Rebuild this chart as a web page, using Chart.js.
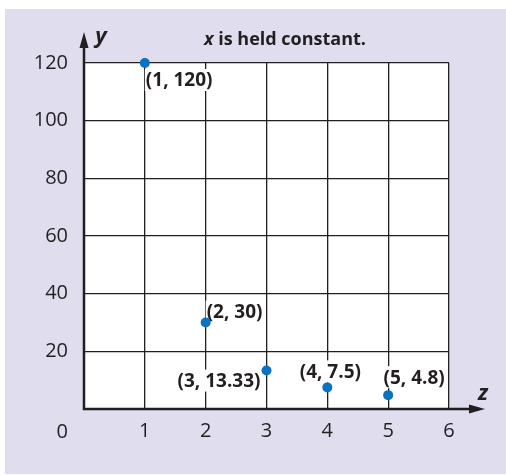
<!DOCTYPE html>
<html>
<head>
<meta charset="utf-8">
<script src="https://cdn.jsdelivr.net/npm/chart.js@4.4.1/dist/chart.umd.min.js"></script>
<style>
  html, body { margin: 0; padding: 0; background: #fff; }
  #wrap { width: 506px; height: 475px; }
</style>
</head>
<body>
<div id="wrap"><canvas id="chart" width="506" height="475"></canvas></div>
<script>
const zValues = [1, 2, 3, 4, 5];
const yValues = [120, 30, 13.33, 7.5, 4.8];
const xTicks = [0, 1, 2, 3, 4, 5, 6];
const yTicks = [0, 20, 40, 60, 80, 100, 120];
const titleVar = 'x';
const titleText = ' is held constant.';

const ink = '#231f20';
const font = 'Open Sans';

// where each point label sits relative to its point: [dx, dy, align]
const labelPlace = [
  [1, 17, 'left'],
  [1, -11, 'left'],
  [-6, 10, 'right'],
  [3, -16, 'center'],
  [26, -18, 'center']
];

const decor = {
  id: 'decor',
  beforeDraw(chart) {
    const { ctx, chartArea: a } = chart;
    ctx.save();
    ctx.fillStyle = '#fff';
    ctx.fillRect(0, 0, chart.width, chart.height);
    ctx.fillStyle = '#dfddee';
    ctx.fillRect(5, 9, chart.width - 5, chart.height - 10);
    ctx.fillStyle = '#fff';
    ctx.fillRect(a.left, a.top, a.right - a.left, a.bottom - a.top);
    ctx.restore();
  },
  beforeDatasetsDraw(chart) {
    const { ctx, scales } = chart;
    const meta = chart.getDatasetMeta(0);
    ctx.save();

    // point labels with white boxes over the grid
    ctx.font = `bold 19px "${font}"`;
    ctx.textBaseline = 'middle';
    meta.data.forEach((pt, i) => {
      const txt = `(${zValues[i]}, ${yValues[i]})`;
      const [dx, dy, align] = labelPlace[i];
      const w = ctx.measureText(txt).width;
      let x0 = pt.x + dx;
      if (align === 'right') x0 -= w;
      if (align === 'center') x0 -= w / 2;
      const yc = pt.y + dy;
      ctx.fillStyle = '#fff';
      ctx.fillRect(x0 - 1, yc - 11, w + 2, 22);
      ctx.fillStyle = ink;
      ctx.textAlign = 'left';
      ctx.fillText(txt, x0, yc + 1);
    });

    // axes with arrows
    const ox = scales.x.getPixelForValue(0);
    const oy = scales.y.getPixelForValue(0);
    ctx.strokeStyle = ink;
    ctx.fillStyle = ink;
    ctx.lineWidth = 2.5;
    ctx.beginPath();
    ctx.moveTo(ox, oy);
    ctx.lineTo(ox, 45);
    ctx.moveTo(ox - 1.25, oy);
    ctx.lineTo(472, oy);
    ctx.stroke();
    ctx.beginPath();
    ctx.moveTo(ox, 32);
    ctx.lineTo(ox + 4.5, 48);
    ctx.lineTo(ox - 4.5, 48);
    ctx.closePath();
    ctx.fill();
    ctx.beginPath();
    ctx.moveTo(485, oy);
    ctx.lineTo(469, oy - 4.5);
    ctx.lineTo(469, oy + 4.5);
    ctx.closePath();
    ctx.fill();

    // origin label
    ctx.font = `20px "${font}"`;
    ctx.textAlign = 'right';
    ctx.fillText('0', ox - 16, oy + 23);

    // axis names
    ctx.font = `italic bold 22px "${font}"`;
    ctx.textAlign = 'center';
    ctx.fillText('y', ox + 17, 37);
    ctx.fillText('z', 483, oy - 15);

    // title
    ctx.textAlign = 'left';
    ctx.font = `italic bold 18px "${font}"`;
    const wv = ctx.measureText(titleVar).width;
    ctx.font = `bold 18px "${font}"`;
    const wt = ctx.measureText(titleText).width;
    const tx = 285 - (wv + wt) / 2;
    ctx.font = `italic bold 18px "${font}"`;
    ctx.fillText(titleVar, tx, 40);
    ctx.font = `bold 18px "${font}"`;
    ctx.fillText(titleText, tx + wv, 40);
    ctx.restore();
  }
};

new Chart(document.getElementById('chart'), {
  type: 'scatter',
  data: {
    datasets: [{
      data: zValues.map((z, i) => ({ x: z, y: yValues[i] })),
      clip: false,
      pointRadius: 5,
      pointHoverRadius: 5,
      pointBackgroundColor: '#0a72c0',
      pointBorderWidth: 0
    }]
  },
  options: {
    responsive: false,
    animation: false,
    events: [],
    layout: { padding: { top: 63, right: 57, left: 0, bottom: 0 } },
    plugins: { legend: { display: false }, tooltip: { enabled: false } },
    scales: {
      x: {
        type: 'linear', min: 0, max: 6,
        afterBuildTicks: s => { s.ticks = xTicks.map(v => ({ value: v })); },
        afterFit: s => { s.height = 66; },
        grid: { color: ink, lineWidth: 1.3, drawTicks: false },
        border: { display: false },
        ticks: {
          padding: 10, color: ink, maxRotation: 0,
          font: { family: font, size: 20 },
          callback: v => v === 0 ? '' : v
        }
      },
      y: {
        type: 'linear', min: 0, max: 120,
        afterBuildTicks: s => { s.ticks = yTicks.map(v => ({ value: v })); },
        afterFit: s => { s.width = 84; },
        grid: { color: ink, lineWidth: 1.3, drawTicks: false },
        border: { display: false },
        ticks: {
          padding: 16, color: ink,
          font: { family: font, size: 20 },
          callback: v => v === 0 ? '' : v
        }
      }
    }
  },
  plugins: [decor]
});
</script>
</body>
</html>
